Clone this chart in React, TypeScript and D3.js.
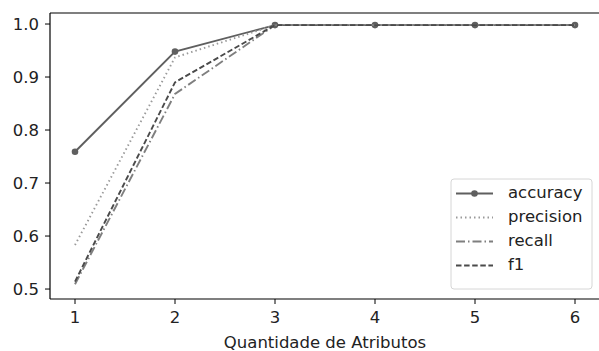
import React from "react";
import * as d3 from "d3";

const attributeCounts = [1, 2, 3, 4, 5, 6];
const accuracy = [0.759, 0.948, 0.998, 0.998, 0.998, 0.998];
const precision = [0.583, 0.937, 0.998, 0.998, 0.998, 0.998];
const recall = [0.509, 0.868, 0.998, 0.998, 0.998, 0.998];
const f1 = [0.514, 0.89, 0.998, 0.998, 0.998, 0.998];
const yTicks = [0.5, 0.6, 0.7, 0.8, 0.9, 1.0];
const xLabel = "Quantidade de Atributos";

const W = 599;
const H = 351;
const left = 50;
const right = 600;
const top = 13;
const bottom = 299;
const fontSize = 16.5;

const series = [
  { name: "accuracy", values: accuracy, color: "#5f5f5f", dash: "", marker: true, width: 1.9 },
  { name: "precision", values: precision, color: "#9a9a9a", dash: "1.5 3", marker: false, width: 1.9 },
  { name: "recall", values: recall, color: "#7f7f7f", dash: "9 3 1.5 3", marker: false, width: 1.9 },
  { name: "f1", values: f1, color: "#4a4a4a", dash: "5.5 2.6", marker: false, width: 1.9 },
];

export default function App() {
  const x = d3.scaleLinear().domain([0.75, 6.25]).range([left, right]);
  const y = d3.scaleLinear().domain([0.4812, 1.0208]).range([bottom, top]);
  const line = d3
    .line<number>()
    .x((_, i) => x(attributeCounts[i]))
    .y((d) => y(d));
  const font = "DejaVu Sans, sans-serif";
  const legendX = 451;
  const legendY = 179;
  return (
    <svg
      width={W}
      height={H}
      style={{ position: "absolute", left: 0, top: 0, background: "#fff" }}
      fontFamily={font}
    >
      <rect x={0} y={0} width={W} height={H} fill="#fff" />
      {series.map((s) => (
        <g key={s.name}>
          <path
            d={line(s.values) || ""}
            fill="none"
            stroke={s.color}
            strokeWidth={s.width}
            strokeDasharray={s.dash || undefined}
          />
          {s.marker &&
            s.values.map((v, i) => (
              <circle key={i} cx={x(attributeCounts[i])} cy={y(v)} r={3.3} fill={s.color} />
            ))}
        </g>
      ))}
      {/* spines */}
      <line x1={left} x2={left} y1={top} y2={bottom} stroke="#000" strokeWidth={1.2} />
      <line x1={left} x2={right} y1={bottom} y2={bottom} stroke="#000" strokeWidth={1.2} />
      <line x1={left} x2={right} y1={top} y2={top} stroke="#000" strokeWidth={1.2} />
      {/* y ticks */}
      {yTicks.map((t) => (
        <g key={t}>
          <line x1={left - 5} x2={left} y1={y(t)} y2={y(t)} stroke="#000" />
          <text x={left - 11} y={y(t)} dy="0.36em" textAnchor="end" fontSize={fontSize} fill="#222">
            {t.toFixed(1)}
          </text>
        </g>
      ))}
      {/* x ticks */}
      {attributeCounts.map((t) => (
        <g key={t}>
          <line x1={x(t)} x2={x(t)} y1={bottom} y2={bottom + 5} stroke="#000" />
          <text x={x(t)} y={bottom + 24} textAnchor="middle" fontSize={fontSize} fill="#222">
            {t}
          </text>
        </g>
      ))}
      <text x={325} y={H - 3} textAnchor="middle" fontSize={fontSize} fill="#222">
        {xLabel}
      </text>
      {/* legend */}
      <rect
        x={legendX}
        y={legendY}
        width={141}
        height={110}
        rx={3}
        fill="#fff"
        fillOpacity={0.85}
        stroke="#d6d6d6"
      />
      {series.map((s, i) => {
        const ly = legendY + 14.5 + i * 24;
        return (
          <g key={s.name}>
            <line
              x1={legendX + 5}
              x2={legendX + 42}
              y1={ly}
              y2={ly}
              stroke={s.color}
              strokeWidth={s.width}
              strokeDasharray={s.dash || undefined}
            />
            {s.marker && <circle cx={legendX + 23.5} cy={ly} r={3.3} fill={s.color} />}
            <text x={legendX + 57} y={ly} dy="0.3em" fontSize={fontSize} fill="#222">
              {s.name}
            </text>
          </g>
        );
      })}
    </svg>
  );
}
